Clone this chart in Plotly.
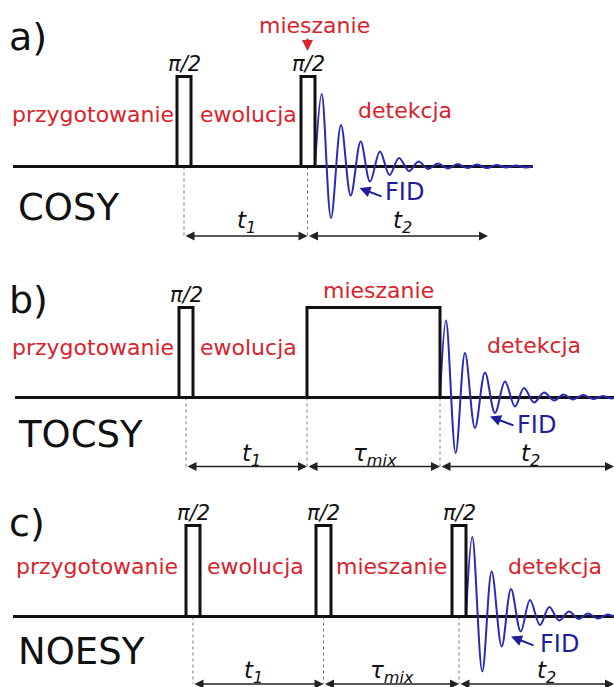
import plotly.graph_objects as go

W, H = 614, 687

# ---------------- sequence data (time axis in drawing units) ----------------
sequence_names = ["COSY", "TOCSY", "NOESY"]
panel_tags = ["a)", "b)", "c)"]

# pulse / spin-lock block start and end times
pulse_starts = [[177, 301], [179, 307], [186, 316, 452]]
pulse_ends = [[191, 315], [193, 440], [200, 331, 466]]
pulse_heights = [[90, 90], [90, 90], [91, 91, 91]]
pulse_labels = [["π/2", "π/2"], ["π/2", None], ["π/2", "π/2", "π/2"]]

# extent of each time line
line_start = [13, 15, 13]
line_end = [533, 614, 614]

# period boundaries (dotted markers) and the delays between them
delay_bounds = [[184, 307.5, 488], [186, 307, 440, 614], [193, 323.5, 459, 614]]
delay_names = [["t", "t"], ["t", "τ", "t"], ["t", "τ", "t"]]
delay_subs = [["1", "2"], ["1", "mix", "2"], ["1", "mix", "2"]]

# free induction decay: (time, amplitude) of successive extrema
fid_t = [
    [315, 321.7, 331, 341, 350.7, 360.7, 370, 380, 389.5, 399, 409, 418.5, 428, 438,
     448, 457.5, 467, 477, 487, 496.5, 506, 516, 525.5, 533],
    [440, 446, 455.7, 465, 475, 485, 495, 505, 515, 524, 534, 544, 554, 563.5, 573,
     583, 593, 603, 612, 614],
    [466, 472.3, 482.3, 491.7, 501.7, 511, 520.7, 530, 540, 549.3, 559, 569, 578.5,
     588, 598, 607.5, 614],
]
fid_amp = [
    [0, 72.5, -51.5, 41.5, -29, 25, -15, 15, -8.5, 8.5, -4.5, 5, -2.5, 3, -2, 2.5,
     -1.5, 2, -1.5, 1.5, -1, 1, -1, 0],
    [0, 77, -55.5, 44.5, -30.5, 25, -15.5, 16, -9, 9.5, -5, 5, -3, 3, -2, 2.5, -1.5,
     1.5, -1, 0],
    [0, 79.5, -55, 45, -30, 27.5, -15, 16.5, -8.5, 9.5, -4, 5, -2.5, 3, -2, 2, 0],
]

# period names written above each time line
period_texts = [
    ["przygotowanie", "ewolucja", "detekcja"],
    ["przygotowanie", "ewolucja", "mieszanie", "detekcja"],
    ["przygotowanie", "ewolucja", "mieszanie", "detekcja"],
]

# ---------------- layout constants ----------------
baseline_y = [166.5, 397.5, 616.5]
arrow_y = [236, 466.5, 684]
tag_y = [37, 300, 523]
name_y = [207, 434, 651]
period_x = [[10, 248, 405], [10, 248, 378, 534], [14, 255, 391, 555]]
period_y = [[114, 114, 110], [347, 347, 290, 345], [566, 566, 566, 566]]
delay_label_x = [[246, 402], [251, 375, 530], [253, 392, 546]]
delay_label_y = [222, 455, 672]
fid_label = [(404, 192), (536, 425), (559, 644)]
fid_arrow = [((383, 197), (359.5, 188)), ((515, 426), (490, 416.5)), ((535, 646), (511, 636.5))]

RED = "#d8232c"
BLUE = "#2a2ab5"
NAVY = "#1f1f9e"
BLACK = "#111111"
FONT = "DejaVu Sans"

fig = go.Figure()
ann = []

for k in range(3):
    y0 = baseline_y[k]

    # time line
    fig.add_trace(go.Scatter(x=[line_start[k], line_end[k]], y=[y0, y0], mode="lines",
                             line=dict(color=BLACK, width=3), hoverinfo="skip"))

    # dotted period boundaries
    for xb in delay_bounds[k][:-1]:
        fig.add_trace(go.Scatter(x=[xb, xb], y=[y0, arrow_y[k]], mode="lines",
                                 line=dict(color="#7a7a7a", width=1, dash="dot"),
                                 hoverinfo="skip"))

    # FID (drawn before pulses so the pulse outline stays on top)
    fig.add_trace(go.Scatter(x=fid_t[k], y=[y0 - a for a in fid_amp[k]], mode="lines",
                             line=dict(color=BLUE, width=2, shape="spline", smoothing=1.0),
                             hoverinfo="skip"))

    # pulses
    for xs, xe, h, lab in zip(pulse_starts[k], pulse_ends[k], pulse_heights[k], pulse_labels[k]):
        fig.add_trace(go.Scatter(x=[xs, xs, xe, xe, xs], y=[y0, y0 - h, y0 - h, y0, y0],
                                 mode="lines", fill="toself", fillcolor="white",
                                 line=dict(color=BLACK, width=3), hoverinfo="skip"))
        if lab:
            ann.append(dict(x=(xs + xe) / 2, y=y0 - h - 13, text=f"<i>{lab}</i>",
                            showarrow=False, font=dict(family=FONT, size=21, color=BLACK)))

    # delay double arrows and labels
    b = delay_bounds[k]
    for i in range(len(b) - 1):
        ann.append(dict(x=b[i + 1], y=arrow_y[k], ax=b[i], ay=arrow_y[k], xref="x", yref="y",
                        axref="x", ayref="y", text="", showarrow=True, arrowside="end+start",
                        arrowhead=2, arrowsize=1.2, arrowwidth=1.5, arrowcolor="#222222",
                        standoff=0, startstandoff=0))
        ann.append(dict(x=delay_label_x[k][i], y=delay_label_y[k],
                        text=f"<i>{delay_names[k][i]}<sub>{delay_subs[k][i]}</sub></i>",
                        showarrow=False, font=dict(family=FONT, size=23, color=BLACK)))

    # panel tag and sequence name
    ann.append(dict(x=7, y=tag_y[k], text=panel_tags[k], showarrow=False, xanchor="left",
                    font=dict(family=FONT, size=38, color=BLACK)))
    ann.append(dict(x=16, y=name_y[k], text=sequence_names[k], showarrow=False, xanchor="left",
                    font=dict(family=FONT, size=37, color=BLACK)))

    # period names
    for i, txt in enumerate(period_texts[k]):
        ann.append(dict(x=period_x[k][i], y=period_y[k][i], text=txt, showarrow=False,
                        xanchor="left" if i == 0 else "center",
                        font=dict(family=FONT, size=22, color=RED)))

    # FID label with pointer
    ann.append(dict(x=fid_label[k][0], y=fid_label[k][1], text="FID", showarrow=False,
                    font=dict(family=FONT, size=24, color=NAVY)))
    (tx, ty), (hx, hy) = fid_arrow[k]
    ann.append(dict(x=hx, y=hy, ax=tx, ay=ty, xref="x", yref="y", axref="x", ayref="y",
                    text="", showarrow=True, arrowhead=2, arrowsize=1.1, arrowwidth=2,
                    arrowcolor=NAVY, standoff=0))

# mixing label above the second COSY pulse
ann.append(dict(x=314, y=25, text="mieszanie", showarrow=False,
                font=dict(family=FONT, size=22, color=RED)))
ann.append(dict(x=307.5, y=51, ax=307.5, ay=37, xref="x", yref="y", axref="x", ayref="y",
                text="", showarrow=True, arrowhead=2, arrowsize=1.1, arrowwidth=2,
                arrowcolor=RED, standoff=0))

fig.update_layout(
    width=W, height=H, margin=dict(l=0, r=0, t=0, b=0),
    paper_bgcolor="white", plot_bgcolor="white", showlegend=False,
    xaxis=dict(range=[0, W], visible=False, fixedrange=True),
    yaxis=dict(range=[H, 0], visible=False, fixedrange=True),
    annotations=ann,
)

fig.write_html("out.html", config={"displayModeBar": False})
